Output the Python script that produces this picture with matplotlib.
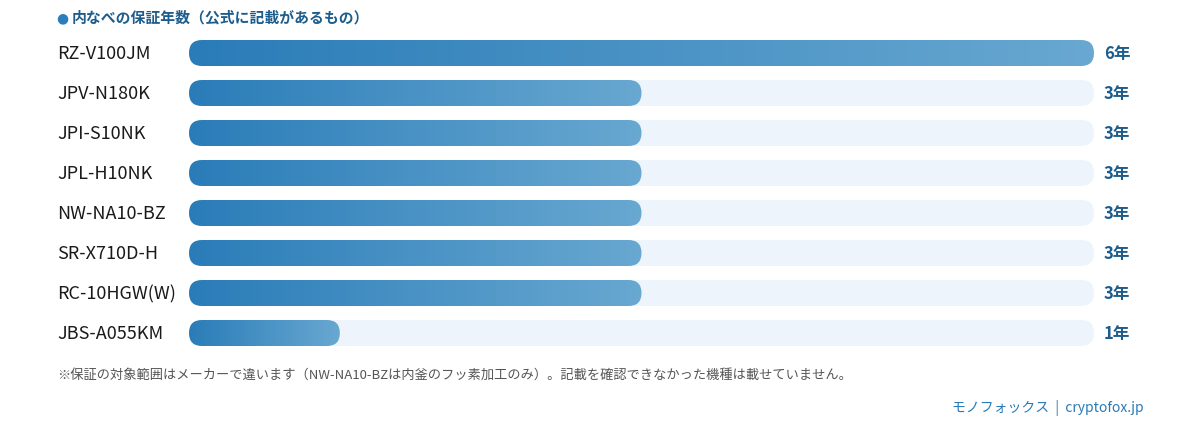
import matplotlib.pyplot as plt
import numpy as np
from matplotlib.patches import FancyBboxPatch
from matplotlib.colors import LinearSegmentedColormap

plt.rcParams['font.family'] = ['Noto Sans CJK JP', 'DejaVu Sans']

# data
models = ["RZ-V100JM", "JPV-N180K", "JPI-S10NK", "JPL-H10NK",
          "NW-NA10-BZ", "SR-X710D-H", "RC-10HGW(W)", "JBS-A055KM"]
years = [6, 3, 3, 3, 3, 3, 3, 1]
max_years = 6
title = "内なべの保証年数（公式に記載があるもの）"
note = "※保証の対象範囲はメーカーで違います（NW-NA10-BZは内釜のフッ素加工のみ）。記載を確認できなかった機種は載せていません。"
credit = "モノフォックス  |  cryptofox.jp"

W, H = 1200, 438
fig = plt.figure(figsize=(W / 100, H / 100), dpi=100)

# bar area in pixels
left, right = 189, 1094
top, bottom = 33, 353
ax = fig.add_axes([left / W, 1 - bottom / H, (right - left) / W, (bottom - top) / H])
ax.set_axis_off()

n = len(models)
bar_h = 0.65  # 26px of a 40px row
px_x = (right - left) / max_years  # px per x unit
px_y = (bottom - top) / n          # px per row
r = (bar_h / 2) * px_y / px_x      # pill rounding in x units
asp = px_x / px_y

cmap = LinearSegmentedColormap.from_list("bar", ["#2a7cb8", "#68a8d1"])
grad = np.linspace(0, 1, 256).reshape(1, -1)
style = f"round,pad=0,rounding_size={r}"

for i, (m, v) in enumerate(zip(models, years)):
    track = FancyBboxPatch((0, i - bar_h / 2), max_years, bar_h, boxstyle=style,
                           mutation_aspect=asp, fc="#edf4fb", ec="none")
    ax.add_patch(track)
    bar = FancyBboxPatch((0, i - bar_h / 2), v, bar_h, boxstyle=style,
                         mutation_aspect=asp, fc="none", ec="none")
    ax.add_patch(bar)
    im = ax.imshow(grad, cmap=cmap, aspect="auto",
                   extent=[0, v, i + bar_h / 2, i - bar_h / 2], zorder=2)
    im.set_clip_path(bar)

    y = 1 - (54 + i * 40) / H
    fig.text(57 / W, y, m, fontsize=13, color="#1a1a1a",
             ha="left", va="center")
    fig.text(1104 / W, y, f"{v}年", fontsize=12,
             fontweight="bold", color="#1d5d8c", ha="left", va="center")

ax.set_xlim(0, max_years)
ax.set_ylim(n - 0.5, -0.5)

# title
fig.text(56 / W, 1 - 18 / H, "●", fontsize=10, color="#2a7fba", ha="left", va="center",
         family=['DejaVu Sans'])
fig.text(72 / W, 1 - 18 / H, title, fontsize=10.7, fontweight="bold",
         color="#1d5d8c", ha="left", va="center")

fig.text(57 / W, 1 - 375 / H, note, fontsize=9.5, color="#555555",
         ha="left", va="center")
fig.text(1144 / W, 1 - 408 / H, credit, fontsize=10, color="#2a7ab5",
         ha="right", va="center")

fig.savefig("out.png", dpi=100)
